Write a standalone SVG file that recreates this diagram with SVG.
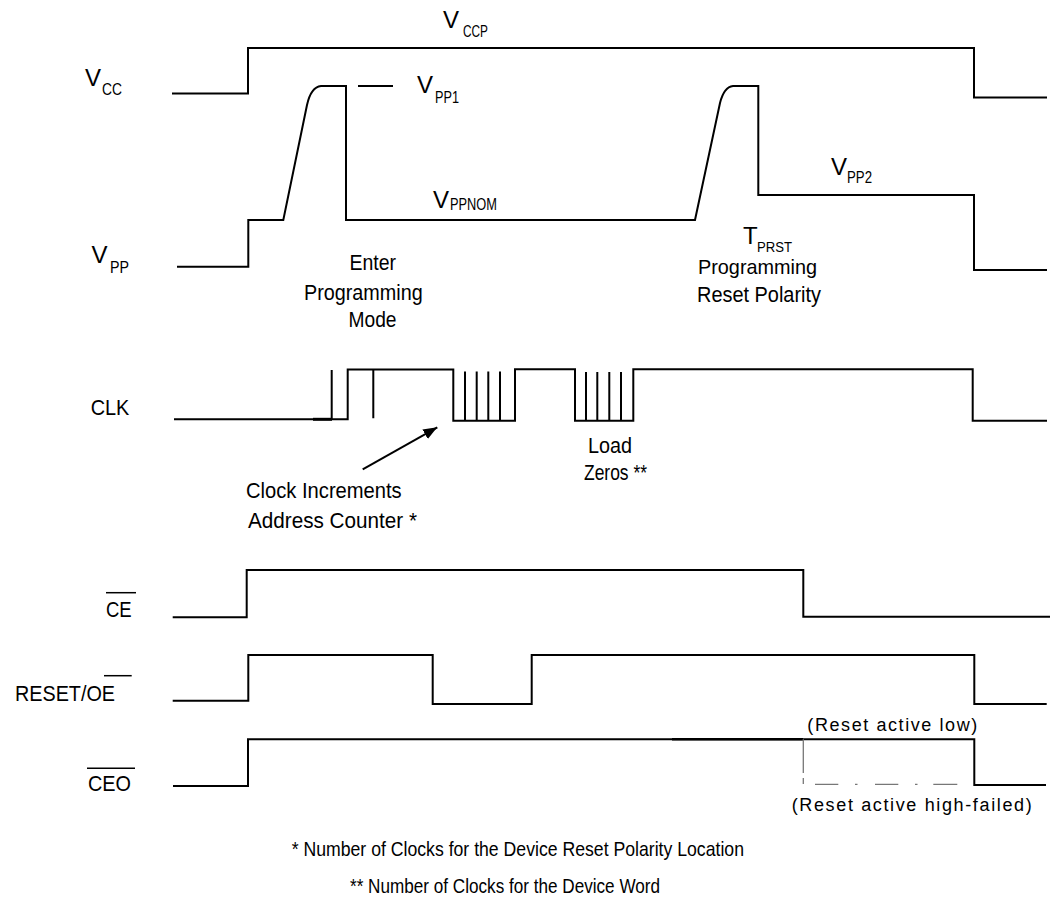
<svg xmlns="http://www.w3.org/2000/svg" width="1050" height="897" viewBox="0 0 1050 897">
<defs>
<style>
.w{fill:none;stroke:#000;stroke-width:2;stroke-linejoin:miter}
.ov{fill:none;stroke:#000;stroke-width:1.5}
.g{fill:none;stroke:#777;stroke-width:1.3}
text{font-family:"Liberation Sans",Arial,sans-serif;fill:#000}
.v{font-size:24px}
.s{font-size:16px}
.t{font-size:21.5px}
.f{font-size:21px}
.n{font-size:18px}
</style>
<marker id="ah" markerWidth="15" markerHeight="11" refX="14" refY="5.5" orient="auto" markerUnits="userSpaceOnUse">
<path d="M0,0 L14,5.5 L0,11 z" fill="#000"/>
</marker>
</defs>
<rect width="1050" height="897" fill="#fff"/>

<g id="vcc">
<path class="w" d="M172,93.5 H248 V48 H974 V97.5 H1047"/>
<text class="v" x="85" y="86">V</text>
<text class="s" x="102" y="94.5" textLength="20" lengthAdjust="spacingAndGlyphs">CC</text>
<text class="v" x="443" y="28">V</text>
<text class="s" x="463" y="37" textLength="25" lengthAdjust="spacingAndGlyphs">CCP</text>
</g>

<g id="vpp">
<path class="w" d="M177,266.7 H248.3 V220 H283.3 L307,105 Q311,87 321,86 H346 V220 H695 L720,103 Q724,87 733,86 H758.3 V195 H974 V270 H1047"/>
<path class="w" d="M358,86 H393"/>
<text class="v" x="91.5" y="263">V</text>
<text class="s" x="110" y="272.5" textLength="19" lengthAdjust="spacingAndGlyphs">PP</text>
<text class="v" x="417" y="93">V</text>
<text class="s" x="435" y="102.5" textLength="24" lengthAdjust="spacingAndGlyphs">PP1</text>
<text class="v" x="433" y="208">V</text>
<text class="s" x="450" y="210" textLength="47" lengthAdjust="spacingAndGlyphs">PPNOM</text>
<text class="v" x="831" y="175">V</text>
<text class="s" x="847" y="183.3" textLength="25" lengthAdjust="spacingAndGlyphs">PP2</text>
<text class="v" x="743" y="244">T</text>
<text x="757" y="251.5" style="font-size:14.5px" textLength="35" lengthAdjust="spacingAndGlyphs">PRST</text>
<text x="698" y="274" style="font-size:21px" textLength="119" lengthAdjust="spacingAndGlyphs">Programming</text>
<text class="t" x="697" y="301.5" textLength="124" lengthAdjust="spacingAndGlyphs">Reset Polarity</text>
<text class="t" x="349.5" y="270" textLength="46.5" lengthAdjust="spacingAndGlyphs">Enter</text>
<text class="t" x="304" y="300" textLength="118.7" lengthAdjust="spacingAndGlyphs">Programming</text>
<text class="t" x="348.5" y="327.3" textLength="48" lengthAdjust="spacingAndGlyphs">Mode</text>
</g>

<g id="clk">
<path class="w" d="M174,419.3 H347.7 V369.5 H453.3 V420.7 H515 V369.3 H575 V420.7 H633.3 V369.3 H972.7 V420.7 H1047"/>
<path class="w" style="stroke-width:3" d="M313,419.3 H332"/>
<path class="w" d="M331.7,419.3 V370 M373.3,369.5 V418.3 M465,420.7 V371.5 M476.7,420.7 V371.5 M488.3,420.7 V371.5 M500,420.7 V371.5 M586,420.7 V372 M597.3,420.7 V372 M609.3,420.7 V372 M621,420.7 V372"/>
<text class="t" x="90.7" y="415" textLength="38.7" lengthAdjust="spacingAndGlyphs">CLK</text>
<text class="t" x="588" y="452.5" textLength="44" lengthAdjust="spacingAndGlyphs">Load</text>
<text class="t" x="584" y="480" textLength="63" lengthAdjust="spacingAndGlyphs">Zeros **</text>
<text class="t" x="246" y="497.7" textLength="155.7" lengthAdjust="spacingAndGlyphs">Clock Increments</text>
<text class="t" x="248" y="528" textLength="169" lengthAdjust="spacingAndGlyphs">Address Counter *</text>
</g>

<g id="connectors">
<line class="w" x1="362.7" y1="469.3" x2="437.3" y2="427.3" marker-end="url(#ah)"/>
</g>

<g id="ce">
<path class="w" d="M172.7,617.3 H246.7 V570 H803.3 V616.7 H1050"/>
<text class="t" x="106" y="617.3" textLength="25.7" lengthAdjust="spacingAndGlyphs">CE</text>
<line class="ov" x1="106" y1="592.7" x2="136" y2="592.7"/>
</g>

<g id="reset-oe">
<path class="w" d="M172.7,700.7 H248.3 V655 H432.7 V704 H531.7 V655 H974.3 V704 H1046.7"/>
<text class="t" x="15" y="700.7" textLength="100" lengthAdjust="spacingAndGlyphs">RESET/OE</text>
<line class="ov" x1="104" y1="675.7" x2="131.7" y2="675.7"/>
<text class="n" x="807.3" y="731" textLength="170" lengthAdjust="spacing">(Reset active low)</text>
</g>

<g id="ceo">
<path class="w" d="M173,786 H248 V739.3 H974.3 V785 H1046"/>
<path class="w" style="stroke-width:2.6" d="M672,739.3 H803"/>
<path class="g" d="M803.3,739.3 V773 M803.3,778 V784 M815,784.3 H838.3 M855,784.3 H857.5 M875,784.3 H898.3 M915,784.3 H917.5 M933.3,784.3 H957.3"/>
<text class="t" x="88" y="791" textLength="43" lengthAdjust="spacingAndGlyphs">CEO</text>
<line class="ov" x1="87" y1="768.3" x2="135" y2="768.3"/>
<text class="n" x="791.7" y="810.7" textLength="240" lengthAdjust="spacing">(Reset active high-failed)</text>
</g>

<g id="notes">
<text class="f" x="291.7" y="856" textLength="452.3" lengthAdjust="spacingAndGlyphs">* Number of Clocks for the Device Reset Polarity Location</text>
<text class="f" x="350" y="892.5" textLength="310" lengthAdjust="spacingAndGlyphs">** Number of Clocks for the Device Word</text>
</g>
</svg>
